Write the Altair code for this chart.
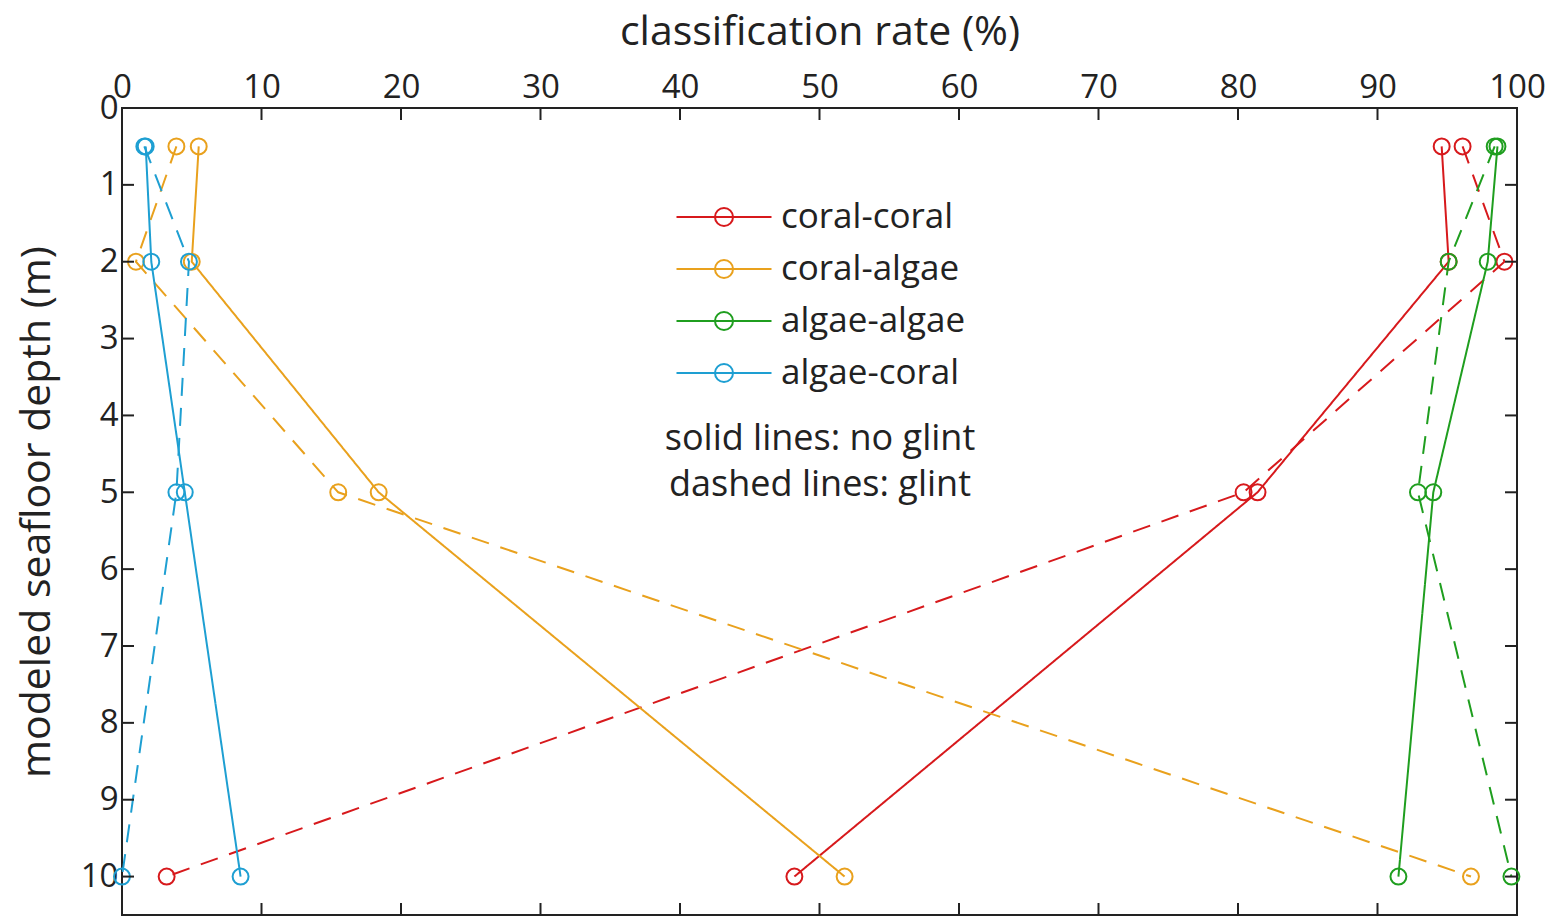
import altair as alt
import pandas as pd

depths = [0.5, 2, 5, 10]
series_names = ["coral-coral", "coral-algae", "algae-algae", "algae-coral"]
colors = ["#d7191c", "#e9a11d", "#1f9e1f", "#1e9fd2"]

cc_solid = [94.6, 95.1, 81.4, 48.2]
cc_dashed = [96.1, 99.1, 80.4, 3.2]
ca_solid = [5.5, 5.0, 18.4, 51.8]
ca_dashed = [3.9, 1.0, 15.5, 96.7]
aa_solid = [98.6, 97.9, 94.0, 91.5]
aa_dashed = [98.4, 95.1, 92.9, 99.6]
ac_solid = [1.7, 2.1, 4.5, 8.5]
ac_dashed = [1.6, 4.8, 3.9, 0.0]

x_ticks = [0, 10, 20, 30, 40, 50, 60, 70, 80, 90, 100]
y_ticks = [0, 1, 2, 3, 4, 5, 6, 7, 8, 9, 10]

FONT = "Open Sans"
INK = "#222222"
W, H = 1395, 807

rows = []
for name, solid, dashed in [
    ("coral-coral", cc_solid, cc_dashed),
    ("coral-algae", ca_solid, ca_dashed),
    ("algae-algae", aa_solid, aa_dashed),
    ("algae-coral", ac_solid, ac_dashed),
]:
    for d, v in zip(depths, solid):
        rows.append({"series": name, "glint": "no glint", "depth": d, "rate": v})
    for d, v in zip(depths, dashed):
        rows.append({"series": name, "glint": "glint", "depth": d, "rate": v})
df = pd.DataFrame(rows)
df["grp"] = df["series"] + "|" + df["glint"]

xs = alt.Scale(domain=[0, 100], nice=False, zero=False)
ys = alt.Scale(domain=[0, 10.5], reverse=True, nice=False, zero=False)

legend_path = ("M-2.5,0L2.5,0M0.475,0A0.475,0.475,0,1,1,-0.475,0"
               "A0.475,0.475,0,1,1,0.475,0")

color = alt.Color(
    "series:N",
    scale=alt.Scale(domain=series_names, range=colors),
    legend=alt.Legend(
        title=None, orient="none", legendX=582, legendY=89,
        symbolType=legend_path, symbolSize=1444, symbolStrokeWidth=2,
        symbolFillColor="transparent",
        labelFont=FONT, labelFontSize=35, labelColor=INK, labelLimit=0,
        labelOffset=37, rowPadding=14,
    ),
)

x_enc = alt.X(
    "rate:Q", scale=xs,
    axis=alt.Axis(orient="top", values=x_ticks, title="classification rate (%)",
                  format="d", labelFlush=False, labelOverlap=False,
                  domain=False, ticks=False, grid=False, labelPadding=4,
                  labelFont=FONT, labelFontSize=33, labelColor=INK,
                  titleFont=FONT, titleFontSize=41, titleFontWeight="normal",
                  titleColor=INK, titlePadding=18),
)
y_enc = alt.Y(
    "depth:Q", scale=ys,
    axis=alt.Axis(values=y_ticks, title="modeled seafloor depth (m)",
                  format="d", labelFlush=False, labelOverlap=False,
                  domain=False, ticks=False, grid=False, labelPadding=4,
                  labelFont=FONT, labelFontSize=33, labelColor=INK,
                  titleFont=FONT, titleFontSize=41, titleFontWeight="normal",
                  titleColor=INK, titlePadding=22),
)

lines = alt.Chart(df).mark_line(strokeWidth=2).encode(
    x=x_enc, y=y_enc, color=color,
    strokeDash=alt.StrokeDash(
        "glint:N",
        scale=alt.Scale(domain=["no glint", "glint"], range=[[1, 0], [18, 12]]),
        legend=None),
    detail="grp:N",
    order="depth:Q",
)

points = alt.Chart(df).mark_point(shape="circle", size=254, strokeWidth=2,
                                   filled=False, opacity=1).encode(
    x=alt.X("rate:Q", scale=xs), y=alt.Y("depth:Q", scale=ys),
    color=alt.Color("series:N", scale=alt.Scale(domain=series_names, range=colors),
                    legend=None),
)

xt = pd.DataFrame({"v": x_ticks})
yt = pd.DataFrame({"v": y_ticks})
tick_top = alt.Chart(xt).mark_rule(color=INK, strokeWidth=2).encode(
    x=alt.X("v:Q", scale=xs), y=alt.value(0), y2=alt.value(12))
tick_bot = alt.Chart(xt).mark_rule(color=INK, strokeWidth=2).encode(
    x=alt.X("v:Q", scale=xs), y=alt.value(H), y2=alt.value(H - 12))
tick_left = alt.Chart(yt).mark_rule(color=INK, strokeWidth=2).encode(
    y=alt.Y("v:Q", scale=ys), x=alt.value(0), x2=alt.value(12))
tick_right = alt.Chart(yt).mark_rule(color=INK, strokeWidth=2).encode(
    y=alt.Y("v:Q", scale=ys), x=alt.value(W), x2=alt.value(W - 12))

note = pd.DataFrame({"t": ["solid lines: no glint", "dashed lines: glint"],
                     "yy": [331, 377]})
notes = alt.Chart(note).mark_text(font=FONT, fontSize=36, color=INK,
                                  align="center", baseline="middle").encode(
    text="t:N", x=alt.value(698), y=alt.Y("yy:Q", scale=None))

chart = alt.layer(lines, points, tick_top, tick_bot, tick_left, tick_right, notes).properties(
    width=W, height=H,
    autosize=alt.AutoSizeParams(type="none"),
    padding={"left": 114, "top": 100, "right": 40, "bottom": 2},
    background="white",
).configure_view(stroke=INK, strokeWidth=2)

chart.save("out.html", embed_options={"renderer": "svg", "actions": False})
